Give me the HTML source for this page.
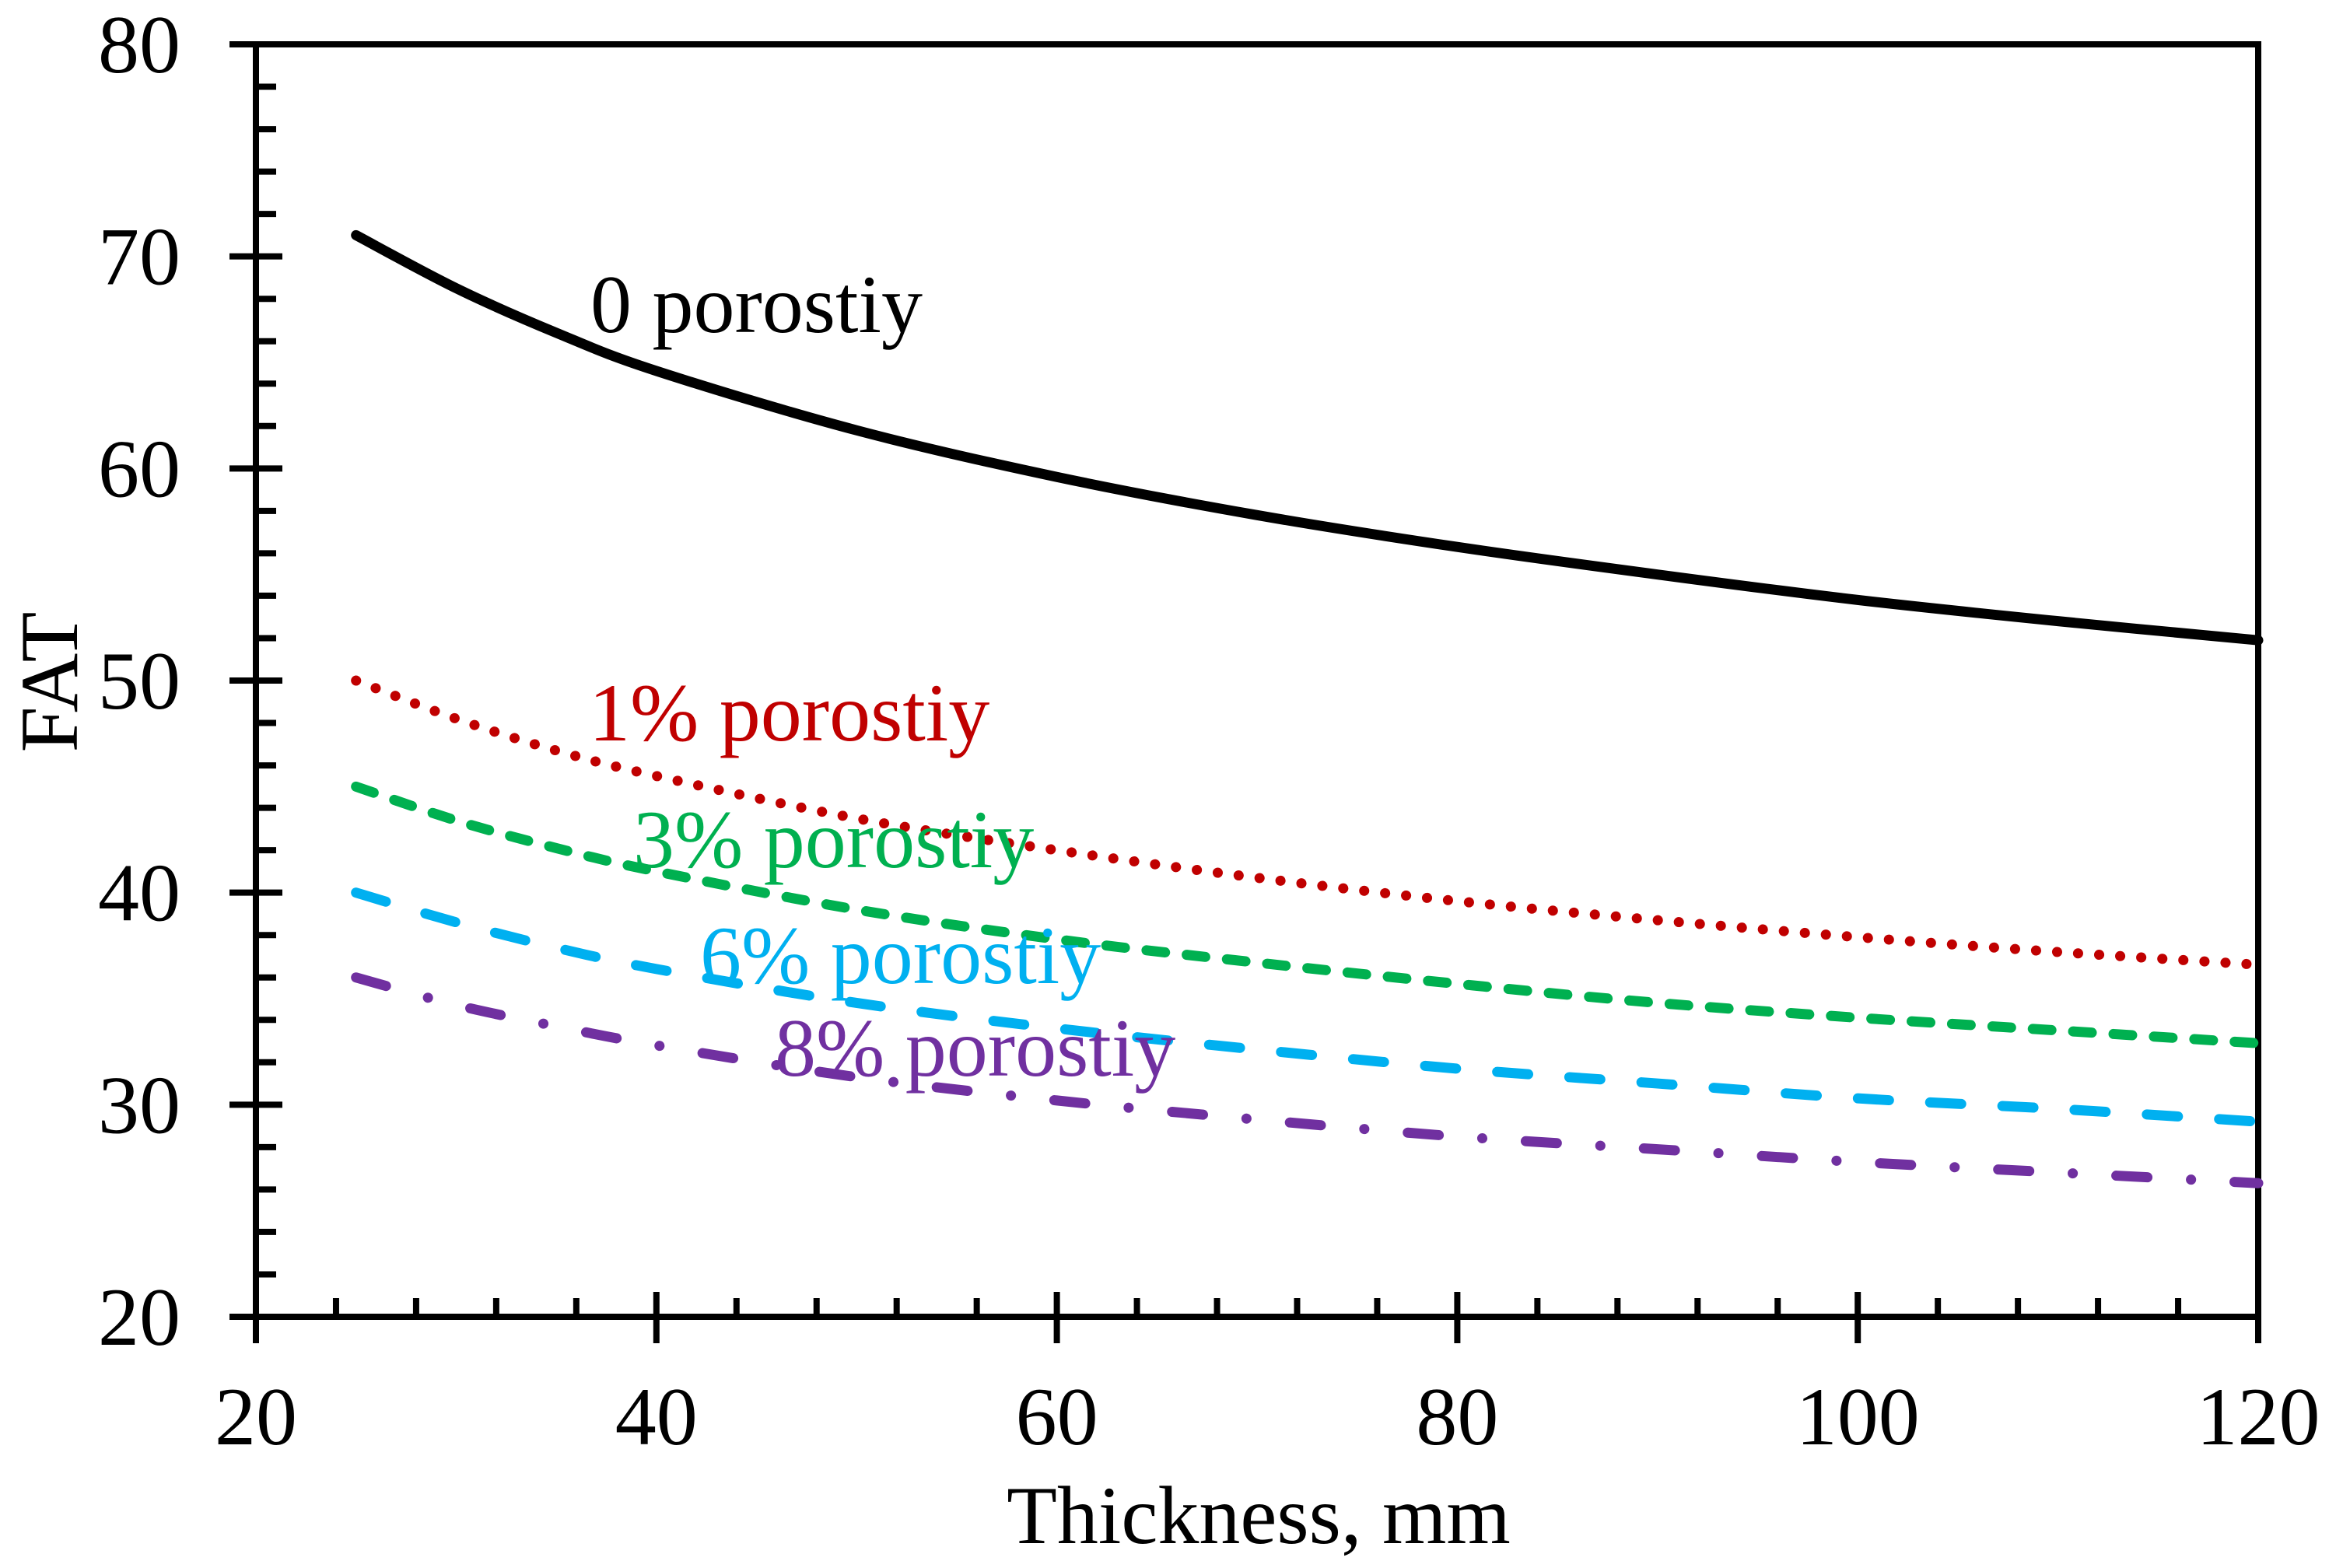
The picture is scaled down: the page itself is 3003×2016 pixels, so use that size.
<!DOCTYPE html>
<html><head><meta charset="utf-8"><style>
html,body{margin:0;padding:0;background:#fff;}
svg{display:block;}
text{font-family:"Liberation Serif","Times New Roman",serif;}
</style></head><body>
<svg id="chart" width="3003" height="2016" viewBox="0 0 3003 2016" xmlns="http://www.w3.org/2000/svg">
<g id="axes"></g>
<g id="series"></g>
<g id="labels"></g>
</svg>
<script>
const thickness = [25, 30, 35, 40, 50, 60, 70, 80, 90, 100, 110, 120];
const fat0 = [71.0, 68.5, 66.4, 64.6, 61.8, 59.6, 57.8, 56.3, 55.0, 53.8, 52.8, 51.9];
const fat1 = [50.0, 48.2, 46.7, 45.5, 43.5, 42.0, 40.7, 39.6, 38.7, 37.9, 37.2, 36.6];
const fat3 = [45.0, 43.4, 42.1, 41.0, 39.2, 37.8, 36.7, 35.7, 34.8, 34.1, 33.5, 32.9];
const fat6 = [40.0, 38.6, 37.4, 36.4, 34.8, 33.6, 32.6, 31.7, 31.0, 30.3, 29.8, 29.2];
const fat8 = [36.0, 34.7, 33.7, 32.8, 31.3, 30.2, 29.3, 28.5, 27.9, 27.3, 26.8, 26.3];
const xTicks = [20, 40, 60, 80, 100, 120];
const yTicks = [20, 30, 40, 50, 60, 70, 80];
const seriesNames = ["0 porostiy", "1% porostiy", "3% porostiy", "6% porostiy", "8% porostiy"];

const NS = "http://www.w3.org/2000/svg";
const L = 329, R = 2903, T = 57, B = 1693;
const X = v => L + (v - 20) / 100 * (R - L);
const Y = v => B - (v - 20) / 60 * (B - T);
function mk(tag, attrs, parent) {
  const e = document.createElementNS(NS, tag);
  for (const k in attrs) e.setAttribute(k, attrs[k]);
  parent.appendChild(e);
  return e;
}
const axes = document.getElementById('axes');
const series = document.getElementById('series');
const labels = document.getElementById('labels');
const FS = 106;

let ln = mk('line', {x1: L, y1: T - 4, x2: L, y2: B + 34, stroke: '#000', 'stroke-width': 8}, axes);


ln = mk('line', {x1: L - 34, y1: B, x2: R + 4, y2: B, stroke: '#000', 'stroke-width': 8}, axes);


ln = mk('line', {x1: L - 34, y1: T, x2: R + 4, y2: T, stroke: '#000', 'stroke-width': 8}, axes);


ln = mk('line', {x1: R, y1: T - 4, x2: R, y2: B + 34, stroke: '#000', 'stroke-width': 8}, axes);



for (let v = 20; v <= 80; v += 2) {
  if (v % 10 === 0) {
    const t = mk('line', {x1: L - 34, y1: Y(v), x2: L + 34, y2: Y(v), stroke: '#000', 'stroke-width': 8}, axes);
    
    
  } else {
    const t = mk('line', {x1: L, y1: Y(v), x2: L + 26, y2: Y(v), stroke: '#000', 'stroke-width': 8}, axes);
    
    
  }
}
yTicks.forEach(v => {
  const t = mk('text', {x: 232, y: Y(v) + 36, 'text-anchor': 'end', 'font-size': FS}, labels);
  t.textContent = v;
  
  
});
for (let v = 20; v <= 120; v += 4) {
  const isMajor = xTicks.indexOf(v) >= 0;
  if (isMajor) {
    const t = mk('line', {x1: X(v), y1: B - 32, x2: X(v), y2: B + 34, stroke: '#000', 'stroke-width': 8}, axes);
    
    
  } else {
    const t = mk('line', {x1: X(v), y1: B, x2: X(v), y2: B - 24, stroke: '#000', 'stroke-width': 8}, axes);
    
    
  }
}
xTicks.forEach(v => {
  const t = mk('text', {x: X(v), y: 1857, 'text-anchor': 'middle', 'font-size': FS}, labels);
  t.textContent = v;
  
  
});
let tt = mk('text', {x: 1618, y: 1984, 'text-anchor': 'middle', 'font-size': FS}, labels);
tt.textContent = 'Thickness, mm';


tt = mk('text', {x: 0, y: 0, 'text-anchor': 'middle', 'font-size': FS, transform: 'translate(99,877) rotate(-90)'}, labels);
tt.textContent = 'FAT';



const defs = [
  {d: fat0, c: '#000000', dash: null, name: 'series-0-porosity', w: 13},
  {d: fat1, c: '#C00000', dash: '0.1 27', name: 'series-1-porosity', w: 13},
  {d: fat3, c: '#00B050', dash: '24 28', name: 'series-3-porosity', w: 13},
  {d: fat6, c: '#00B0F0', dash: '40 53', name: 'series-6-porosity', w: 13},
  {d: fat8, c: '#7030A0', dash: '40 56 0.1 56', name: 'series-8-porosity', w: 13}
];
function pathFor(d) {
  const pts = thickness.map((x, i) => [X(x), Y(d[i])]);
  let s = 'M' + pts[0][0] + ',' + pts[0][1];
  for (let i = 0; i < pts.length - 1; i++) {
    const p0 = pts[Math.max(0, i - 1)], p1 = pts[i], p2 = pts[i + 1], p3 = pts[Math.min(pts.length - 1, i + 2)];
    const c1 = [p1[0] + (p2[0] - p0[0]) / 6, p1[1] + (p2[1] - p0[1]) / 6];
    const c2 = [p2[0] - (p3[0] - p1[0]) / 6, p2[1] - (p3[1] - p1[1]) / 6];
    s += ' C' + c1.join(',') + ' ' + c2.join(',') + ' ' + p2.join(',');
  }
  return s;
}
defs.forEach(s => {
  const a = {d: pathFor(s.d), fill: 'none', stroke: s.c, 'stroke-width': s.w, 'stroke-linecap': 'round', 'stroke-linejoin': 'round'};
  if (s.dash) a['stroke-dasharray'] = s.dash;
  const p = mk('path', a, series);
  
  
});

const ann = [
  {x: 759, y: 427, c: '#000000'},
  {x: 757, y: 952, c: '#C00000'},
  {x: 814, y: 1115, c: '#00B050'},
  {x: 900, y: 1264, c: '#00B0F0'},
  {x: 996, y: 1383, c: '#7030A0'}
];
ann.forEach((a, i) => {
  const t = mk('text', {x: a.x, y: a.y, fill: a.c, 'font-size': FS}, labels);
  t.textContent = seriesNames[i];
  
  
});
</script>
</body></html>
